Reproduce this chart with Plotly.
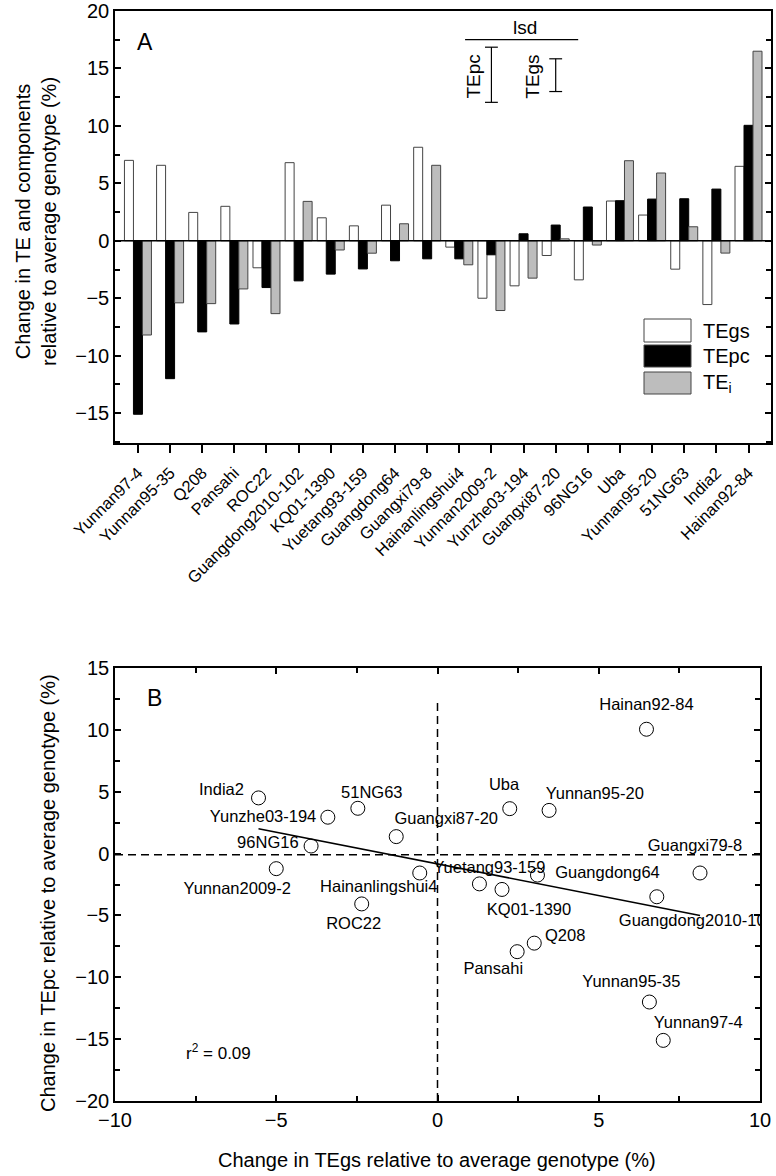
import numpy as np
import plotly.graph_objects as go

W, H = 776, 1176
FONT = "Liberation Sans, Arial, Helvetica, sans-serif"

# ---------------- data ----------------
genotypes = ["Yunnan97-4", "Yunnan95-35", "Q208", "Pansahi", "ROC22",
             "Guangdong2010-102", "KQ01-1390", "Yuetang93-159", "Guangdong64",
             "Guangxi79-8", "Hainanlingshui4", "Yunnan2009-2", "Yunzhe03-194",
             "Guangxi87-20", "96NG16", "Uba", "Yunnan95-20", "51NG63", "India2",
             "Hainan92-84"]
te_gs = [7.0, 6.57, 2.47, 3.0, -2.35, 6.8, 2.0, 1.3, 3.1, 8.14,
         -0.55, -5.0, -3.92, -1.28, -3.4, 3.46, 2.24, -2.47, -5.55, 6.48]
te_pc = [-15.1, -12.0, -7.93, -7.24, -4.07, -3.49, -2.9, -2.45, -1.74, -1.57,
         -1.57, -1.22, 0.61, 1.37, 2.94, 3.49, 3.63, 3.66, 4.5, 10.05]
te_i = [-8.2, -5.4, -5.47, -4.19, -6.34, 3.43, -0.8, -1.08, 1.48, 6.57,
        -2.09, -6.07, -3.25, 0.17, -0.37, 6.97, 5.9, 1.22, -1.07, 16.5]

lsd_te_pc = 4.8
lsd_te_gs = 2.85
r2_text = "r<sup>2</sup> = 0.09"

# label offsets (pixels, dx right, dy down) for panel B text
label_offset = {
    "Yunnan97-4": (35, -17), "Yunnan95-35": (-18, -19), "Q208": (48, -15),
    "Pansahi": (-41, 27), "ROC22": (-8, 21), "Guangdong2010-102": (40, 25),
    "KQ01-1390": (27, 21), "Yuetang93-159": (10, -15), "Guangdong64": (70, -1),
    "Guangxi79-8": (-5, -26), "Hainanlingshui4": (-41, 15),
    "Yunnan2009-2": (-39, 21), "Yunzhe03-194": (-48, -28),
    "Guangxi87-20": (50, -17), "96NG16": (-60, 27), "Uba": (-45, -25),
    "Yunnan95-20": (85, -14), "51NG63": (14, -14), "India2": (-37, -7),
    "Hainan92-84": (0, -23),
}

# ---------------- layout geometry (pixels) ----------------
A_L, A_R, A_T, A_B = 115, 771, 11, 443
B_L, B_R, B_T, B_B = 115, 760, 668, 1101
A_XR = [-0.714, 19.7]
A_YR = [-17.6, 20]
B_XR = [-10, 10]
B_YR = [-20, 15]


def px(x):
    return x / W


def py(y):
    return 1 - y / H


bx_scale = (B_R - B_L) / (B_XR[1] - B_XR[0])
by_scale = (B_B - B_T) / (B_YR[1] - B_YR[0])

fig = go.Figure()

# ---------------- panel A bars ----------------
fig.add_trace(go.Bar(x=genotypes, y=te_gs, name="TEgs", marker=dict(color="white", line=dict(color="#444", width=1)),
                     xaxis="x", yaxis="y", showlegend=False))
fig.add_trace(go.Bar(x=genotypes, y=te_pc, name="TEpc", marker=dict(color="black", line=dict(color="black", width=1)),
                     xaxis="x", yaxis="y", showlegend=False))
fig.add_trace(go.Bar(x=genotypes, y=te_i, name="TEi", marker=dict(color="#bdbdbd", line=dict(color="#444", width=1)),
                     xaxis="x", yaxis="y", showlegend=False))

# ---------------- panel B scatter ----------------
fig.add_trace(go.Scatter(x=te_gs, y=te_pc, mode="markers", xaxis="x2", yaxis="y2",
                         marker=dict(symbol="circle-open", size=14, color="black", line=dict(width=1)),
                         showlegend=False))
lab_x = [te_gs[i] + label_offset[g][0] / bx_scale for i, g in enumerate(genotypes)]
lab_y = [te_pc[i] - label_offset[g][1] / by_scale for i, g in enumerate(genotypes)]
fig.add_trace(go.Scatter(x=lab_x, y=lab_y, mode="text", text=genotypes, xaxis="x2", yaxis="y2",
                         textposition="middle center", textfont=dict(family=FONT, size=16.5, color="black"),
                         cliponaxis=True, showlegend=False))

# regression line
slope, intercept = np.polyfit(te_gs, te_pc, 1)
xf = np.array([min(te_gs), max(te_gs)])
fig.add_trace(go.Scatter(x=xf, y=slope * xf + intercept, mode="lines", xaxis="x2", yaxis="y2",
                         line=dict(color="black", width=1.5), showlegend=False))

# ---------------- axes ----------------
axis_common = dict(showline=True, linecolor="black", linewidth=1.5, showgrid=False, zeroline=False,
                   tickcolor="black", automargin=False)
tf20 = dict(family=FONT, size=20, color="black")
minor = dict(dtick=2.5, tick0=0, ticks="inside", ticklen=5, tickwidth=1.5, tickcolor="black")

fig.update_layout(
    width=W, height=H, margin=dict(l=0, r=0, t=0, b=0),
    paper_bgcolor="white", plot_bgcolor="white",
    barmode="group", bargap=0.16, bargroupgap=0,
    font=dict(family=FONT, color="black"),
    xaxis=dict(**axis_common, tickfont=dict(family=FONT, size=16.5, color="black"),
               domain=[px(A_L), px(A_R)], anchor="y", range=A_XR, type="category",
               tickangle=-45, ticks="outside", ticklen=8, tickwidth=1.5, mirror=True,
               ticklabelstandoff=4),
    xaxis3=dict(overlaying="x", anchor="y", range=A_XR, type="linear",
                tickvals=list(range(len(genotypes))), ticks="inside", ticklen=8, tickwidth=1.5,
                tickcolor="black", showticklabels=False, showline=False, showgrid=False, zeroline=False),
    yaxis=dict(**axis_common, tickfont=tf20, domain=[py(A_B), py(A_T)], anchor="x", range=A_YR,
               tick0=0, dtick=5, ticks="inside", ticklen=6, tickwidth=1.5, mirror="ticks", minor=minor),
    xaxis2=dict(**axis_common, tickfont=tf20, domain=[px(B_L), px(B_R)], anchor="y2", range=B_XR,
                tick0=0, dtick=5, ticks="inside", ticklen=6, tickwidth=1.5, mirror="ticks", minor=minor),
    yaxis2=dict(**axis_common, tickfont=tf20, domain=[py(B_B), py(B_T)], anchor="x2", range=B_YR,
                tick0=0, dtick=5, ticks="inside", ticklen=6, tickwidth=1.5, mirror="ticks", minor=minor),
)

shapes = []
# zero line panel A
shapes.append(dict(type="line", xref="paper", yref="y", x0=px(A_L), x1=px(A_R), y0=0, y1=0,
                   line=dict(color="black", width=1.5)))
# lsd annotation lines panel A (category index units)
i_pc = genotypes.index("Yunnan2009-2")
i_gs = genotypes.index("Guangxi87-20")
lsd_y = 17.5
shapes.append(dict(type="line", xref="x", yref="y", x0=i_pc - 0.82, x1=i_gs + 0.7, y0=lsd_y, y1=lsd_y,
                   line=dict(color="black", width=1.2)))
pc_top = 16.85
gs_top = 15.84
for xc, top, ln in [(i_pc, pc_top, lsd_te_pc), (i_gs, gs_top, lsd_te_gs)]:
    shapes.append(dict(type="line", xref="x", yref="y", x0=xc, x1=xc, y0=top, y1=top - ln,
                       line=dict(color="black", width=1.2)))
    for yy in (top, top - ln):
        shapes.append(dict(type="line", xref="x", yref="y", x0=xc - 0.2, x1=xc + 0.2, y0=yy, y1=yy,
                           line=dict(color="black", width=1.2)))

# dashed reference lines panel B
shapes.append(dict(type="line", xref="x2", yref="y2", x0=B_XR[0], x1=B_XR[1], y0=-0.1, y1=-0.1,
                   line=dict(color="black", width=1.5, dash="8px,5px")))
shapes.append(dict(type="line", xref="x2", yref="y2", x0=0, x1=0, y0=B_YR[0], y1=12.3,
                   line=dict(color="black", width=1.5, dash="8px,5px")))

# manual legend panel A
legend_items = [("TEgs", "white"), ("TEpc", "black"), ("TE<sub>i</sub>", "#bdbdbd")]
leg_rows = [(319, 342), (345, 367), (372, 394)]
annotations = []
for (name, col), (y0, y1) in zip(legend_items, leg_rows):
    shapes.append(dict(type="rect", xref="paper", yref="paper", x0=px(644), x1=px(691), y0=py(y1), y1=py(y0),
                       fillcolor=col, line=dict(color="#444", width=1)))
    annotations.append(dict(xref="paper", yref="paper", x=px(701), y=py((y0 + y1) / 2), text=name,
                            showarrow=False, xanchor="left", yanchor="middle",
                            font=dict(family=FONT, size=20, color="black")))


def ann(x, y, text, size=20, angle=0, xanchor="center", ref="paper"):
    if ref == "paper":
        x, y = px(x), py(y)
        xr, yr = "paper", "paper"
    else:
        xr, yr = ref
    return dict(xref=xr, yref=yr, x=x, y=y, text=text, textangle=angle, showarrow=False,
                xanchor=xanchor, yanchor="middle", font=dict(family=FONT, size=size, color="black"))


annotations += [
    ann(145, 42, "A", 23),
    ann(154, 698, "B", 23),
    ann(12.03, 18.55, "lsd", 19, ref=("x", "y")),
    ann(i_pc - 0.57, 14.3, "TEpc", 19, angle=-90, ref=("x", "y")),
    ann(i_gs - 0.73, 14.3, "TEgs", 19, angle=-90, ref=("x", "y")),
    ann(36, 222, "Change in TE and components<br>relative to average genotype (%)", 20, angle=-90),
    ann(48, 893, "Change in TEpc relative to average genotype (%)", 20, angle=-90),
    ann(437, 1160, "Change in TEgs relative to average genotype (%)", 20),
    ann(184, 1052, r2_text, 17, xanchor="left"),
]

fig.update_layout(shapes=shapes, annotations=annotations)
fig.write_html("out.html", config={"displayModeBar": False},
               post_script="document.body.style.margin='0px';document.body.style.overflow='hidden';")
